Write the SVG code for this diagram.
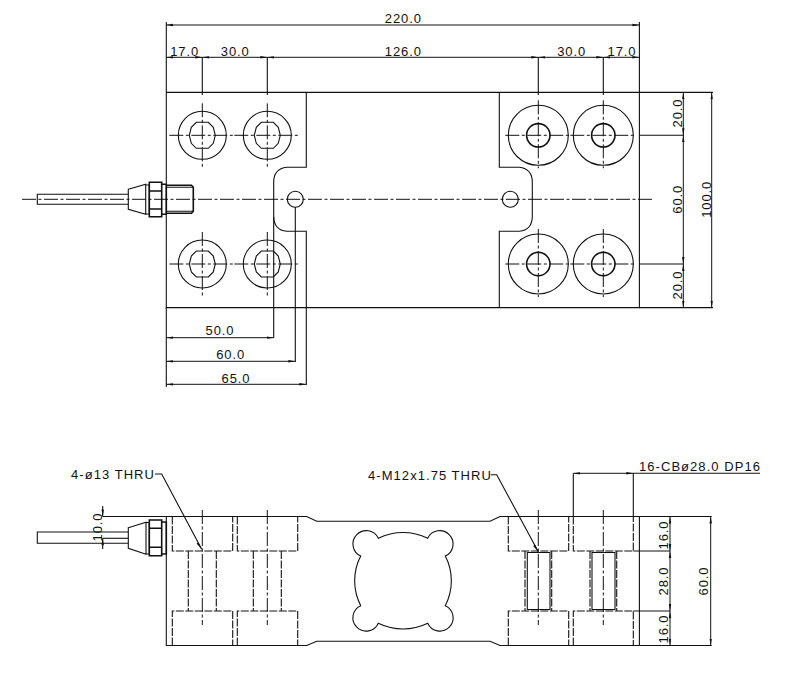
<svg xmlns="http://www.w3.org/2000/svg" xmlns:xlink="http://www.w3.org/1999/xlink" width="792" height="683" viewBox="0 0 792 683">
<style>
.s{fill:none;stroke:#111;stroke-width:1.1}
.h{fill:none;stroke:#111;stroke-width:1.6}
.c{fill:none;stroke:#111;stroke-width:1;stroke-dasharray:14 2.5 3 2.5}
.d{fill:none;stroke:#111;stroke-width:1.1;stroke-dasharray:8 1.5}
.dm{fill:none;stroke:#111;stroke-width:1;marker-start:url(#a);marker-end:url(#a)}
text{font-family:"Liberation Sans",Arial,sans-serif;font-size:13px;letter-spacing:.9px;fill:#111;text-anchor:middle}
.l{letter-spacing:1.05px}
</style>
<defs>
<marker id="a" markerUnits="userSpaceOnUse" markerWidth="8" markerHeight="4" refX="7" refY="2" orient="auto-start-reverse"><path d="M0 .8L7 2L0 3.2Z" fill="#111"/></marker>
<polygon id="o" class="s" points="-6,-13 6,-13 11,-8 13,0 11,8 6,13 -6,13 -11,8 -13,0 -11,-8"/>
<g id="lh"><circle class="s" r="24"/><use xlink:href="#o"/><path class="c" d="M-33 0H33M0-32V33"/></g>
<g id="rh"><circle class="s" r="30"/><circle class="h" r="11.7"/><path class="c" d="M-33 0H33M0-35V33"/></g>
</defs>

<g id="plan-view">
<path class="s" d="M166.3 92.4H639.4V307.6H166.3Z"/>
<path class="s" d="M306.3 92.4V167.3H286.7Q273.7 169 273.7 182V216.7Q274 230 286.7 231.3H306.3V307.6"/>
<path class="s" d="M499.3 92.4V167.3H519.3Q532.3 169 532.3 182V216.7Q532 230 519.3 231.3H499.3V307.6"/>
<circle class="s" cx="295.3" cy="199.3" r="8"/>
<circle class="s" cx="510.3" cy="199.3" r="8"/>
<path class="c" d="M22 199.3H653"/>
<use xlink:href="#lh" x="202.3" y="135.3"/>
<use xlink:href="#lh" x="267.3" y="135.3"/>
<use xlink:href="#lh" x="202.3" y="264"/>
<use xlink:href="#lh" x="267.3" y="264"/>
<use xlink:href="#rh" x="538.3" y="135.3"/>
<use xlink:href="#rh" x="603.3" y="135.3"/>
<use xlink:href="#rh" x="538.3" y="264"/>
<use xlink:href="#rh" x="603.3" y="264"/>
</g>

<g id="plan-cable">
<path class="s" d="M128.3 194.3H37.3V204.3H128.3"/>
<path class="s" d="M128.3 189.3L145.7 184.3V214.3L128.3 209.3Z"/>
<path class="s" d="M145.7 185H149.3V214H145.7"/>
<path class="h" d="M149.3 182.3H161.7V216.7H149.3ZM149.3 191H161.7M149.3 209H161.7"/>
<path class="h" d="M161.7 184.3H166.3V214.3H161.7"/>
<path class="h" d="M166.3 185.3H191.5L193.3 187.3V211.3L191.5 213.3H166.3"/>
<path class="s" d="M166.3 187.3H193.3M166.3 211.3H193.3"/>
</g>

<g id="side-view">
<path class="s" d="M102.7 516.5H306.7L316.7 521.3H490L500 516.5H639.4V645.5H500L490 641.3H316.7L306.7 645.5H166.3V516.5"/>
<path class="s" d="M378.3 538.3A56 56 0 0 1 427.7 538.3A13.3 13.3 0 1 1 445.3 556A54 54 0 0 1 445.3 605.7A13.3 13.3 0 1 1 427.7 623.3A56 56 0 0 1 378.3 623.3A13.3 13.3 0 1 1 360.7 605.7A54 54 0 0 1 360.7 556A13.3 13.3 0 1 1 378.3 538.3Z"/>
<path class="d" d="M172.3 516.5V551H232.7V516.5M172.3 645.5V611H232.7V645.5"/>
<path class="d" d="M237.3 516.5V551H297.7V516.5M237.3 645.5V611H297.7V645.5"/>
<path class="d" d="M508.3 516.5V551H568.7V516.5M508.3 645.5V611H568.7V645.5"/>
<path class="d" d="M573.3 516.5V551H633.3V516.5M573.3 645.5V611H633.3V645.5"/>
<path class="d" d="M188.3 551V611M216.3 551V611M253.3 551V611M281.3 551V611"/>
<path class="d" d="M525 551V611M551.7 551V611M590 551V611M616.7 551V611"/>
<path class="s" d="M527.3 552.5H550V609.5H527.3ZM592 552.5H615V609.5H592Z"/>
<path class="c" d="M202.3 510V625M267.3 510V625M538.3 510V625M603.3 510V625"/>
</g>

<g id="side-cable">
<path class="s" d="M128.3 532H37.3V543.3H128.3"/>
<path class="s" d="M128.3 527.7L146 522.3V554.3L128.3 548.3Z"/>
<path class="s" d="M146 522.5H149.3V554H146"/>
<path class="h" d="M149.3 520H161.7V555.7H149.3ZM149.3 528.3H161.7M149.3 547.3H161.7"/>
<path class="h" d="M161.7 522H166.3V554H161.7"/>
</g>

<g id="dimensions">
<path class="s" d="M166.3 22V92M639.4 22V92M202.3 57V95M267.3 57V95M538.3 57V95M603.3 57V95"/>
<path class="dm" d="M166.3 25H639.4"/>
<path class="dm" d="M166.3 57.3H202.3"/>
<path class="dm" d="M202.3 57.3H267.3"/>
<path class="dm" d="M267.3 57.3H538.3"/>
<path class="dm" d="M538.3 57.3H603.3"/>
<path class="dm" d="M603.3 57.3H639.4"/>
<path class="s" d="M639.4 92.4H713M639.4 135.3H684M639.4 264H684M639.4 307.6H713"/>
<path class="dm" d="M683.3 92.4V135.3"/>
<path class="dm" d="M683.3 135.3V264"/>
<path class="dm" d="M683.3 264V307.6"/>
<path class="dm" d="M711.7 92.4V307.6"/>
<path class="s" d="M166.3 307V387M273.7 216.7V338M295.3 207V362M306.3 307V385"/>
<path class="dm" d="M166.3 337.7H273.7"/>
<path class="dm" d="M166.3 361.3H295.3"/>
<path class="dm" d="M166.3 384.3H306.3"/>
<path class="s" d="M573.3 473.3V516M633.3 473.3V516M633.3 473.3H760M639.4 516.5H711.7M633.3 551H670M633.3 611H670M639.4 645.5H711.7"/>
<path class="dm" d="M573.3 473.3H633.3"/>
<path class="dm" d="M670 516.5V551"/>
<path class="dm" d="M670 551V611"/>
<path class="dm" d="M670 611V645.5"/>
<path class="dm" d="M710.7 516.5V645.5"/>
<path class="s" d="M102.7 538.3H128.3"/>
<path class="s" d="M102.7 506V516.5M102.7 538.3V549"/>
<path d="M102.7 516.5L101.5 509.5H103.9ZM102.7 538.3L101.5 545.3H103.9Z" fill="#111"/>
<path class="s" d="M155 474H161.7L201.7 549.3M490.7 474.7H496.7L538.3 551.7"/>
<path d="M201.7 549.3L196.5 543.5L198.6 542.4ZM538.3 551.7L533.1 545.9L535.2 544.8Z" fill="#111"/>
</g>

<g id="labels">
<text x="403.3" y="23">220.0</text>
<text x="184.7" y="55.5">17.0</text>
<text x="235.3" y="55.5">30.0</text>
<text x="403.3" y="55.5">126.0</text>
<text x="571.7" y="55.5">30.0</text>
<text x="622" y="55.5">17.0</text>
<text transform="translate(682 113) rotate(-90)">20.0</text>
<text transform="translate(682 199.3) rotate(-90)">60.0</text>
<text transform="translate(710.5 199.3) rotate(-90)">100.0</text>
<text transform="translate(682 285) rotate(-90)">20.0</text>
<text x="220" y="335">50.0</text>
<text x="230.7" y="359">60.0</text>
<text x="236" y="382.5">65.0</text>
<text class="l" x="113" y="478.5">4-ø13 THRU</text>
<text class="l" x="430" y="479.5">4-M12x1.75 THRU</text>
<text class="l" x="700" y="471">16-CBø28.0 DP16</text>
<text transform="translate(667.5 535) rotate(-90)">16.0</text>
<text transform="translate(667.5 581) rotate(-90)">28.0</text>
<text transform="translate(667.5 629) rotate(-90)">16.0</text>
<text transform="translate(708 581) rotate(-90)">60.0</text>
<text transform="translate(102 527) rotate(-90)">10.0</text>
</g>
</svg>
